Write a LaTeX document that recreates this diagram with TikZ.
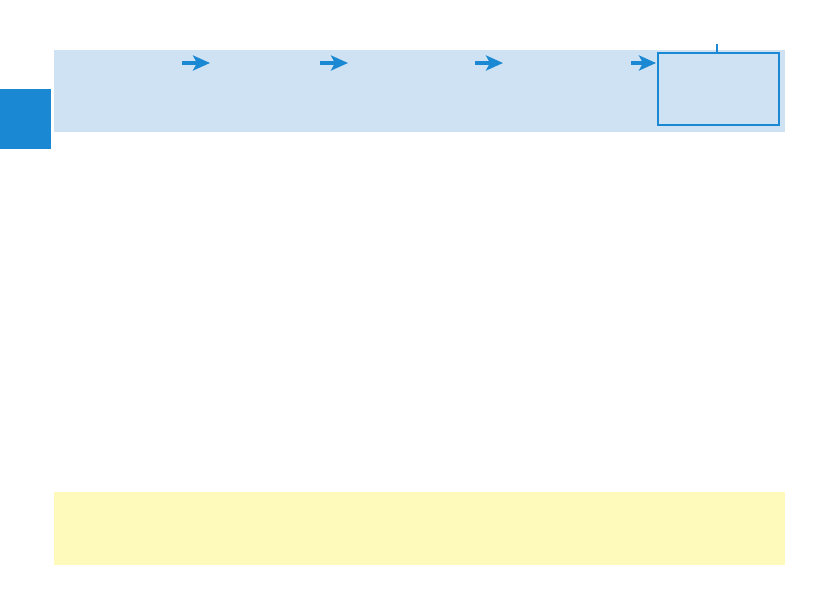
\documentclass[tikz,border=0pt]{standalone}
\usepackage{tikz}
\usetikzlibrary{positioning, arrows.meta}
\definecolor{bandBlue}{HTML}{CFE2F3}
\definecolor{tabBlue}{HTML}{1A88D2}
\definecolor{bandYellow}{HTML}{FEFABC}
\tikzset{
  band/.style={fill=bandBlue, draw=none},
  note/.style={fill=bandYellow, draw=none},
  flow/.style={-{Stealth[length=8.5pt, width=7.5pt, inset=2pt]}, line width=1.6pt, tabBlue},
  frame/.style={draw=tabBlue, line width=1.2pt},
}

\begin{document}
\begin{tikzpicture}[x=0.5pt, y=-0.5pt]
  \useasboundingbox (0,0) rectangle (839,595);
  % side tab and top band
  \fill[tabBlue] (0,89) rectangle (51,149);
  \fill[band] (54,50) rectangle (785,132);
  % flow of steps
  \coordinate (s1) at (182,63);
  \coordinate (e1) at (210,63);
  \coordinate (s2) at (320,63);
  \coordinate (e2) at (348,63);
  \coordinate (s3) at (475,63);
  \coordinate (e3) at (503,63);
  \coordinate (s4) at (631,63);
  \draw[frame] (658,53) rectangle (779,125);
  \coordinate (res) at (656,63);
  \coordinate (tick) at (717,44);
  \coordinate (top) at (717,53);
  \draw[flow] (s1) -- (e1);
  \draw[flow] (s2) -- (e2);
  \draw[flow] (s3) -- (e3);
  \draw[flow] (s4) -- (res);
  \draw[frame] (tick) -- (top);
  % bottom note band
  \fill[note] (54,492) rectangle (785,565);
\end{tikzpicture}
\end{document}
